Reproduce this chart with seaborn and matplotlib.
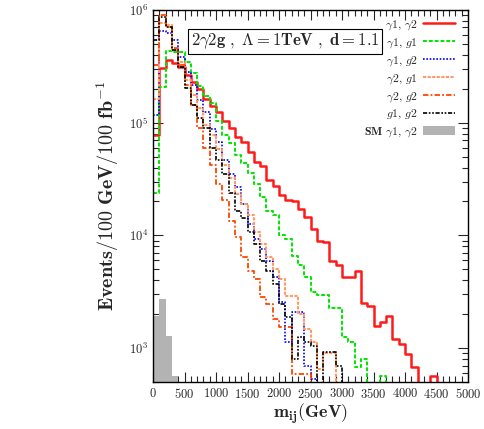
import numpy as np
import pandas as pd
import seaborn as sns
import matplotlib.pyplot as plt
from matplotlib.patches import Patch
from matplotlib.lines import Line2D
from matplotlib.ticker import MultipleLocator, LogLocator, NullFormatter

# 100 GeV bins from 0 to 5000 GeV
edges = np.arange(0, 5100, 100)
centers = edges[:-1] + 50

# events / 100 GeV / 100 fb^-1 (0 = empty bin)
a1a2 = [7.8e4, 3.07e5, 3.61e5, 3.40e5, 3.13e5, 2.66e5, 2.31e5, 2.0e5, 1.63e5, 1.41e5,
        1.25e5, 1.04e5, 9.0e4, 7.5e4, 6.8e4, 5.5e4, 4.5e4, 4.1e4, 3.13e4, 2.77e4,
        2.26e4, 2.08e4, 2.0e4, 1.70e4, 1.47e4, 1.13e4, 9.0e3, 8.7e3, 5.9e3, 5.5e3,
        4.3e3, 4.3e3, 4.8e3, 2.5e3, 2.37e3, 1.57e3, 1.70e3, 1.92e3, 1.2e3, 1.08e3,
        8.9e2, 6.8e2, 0, 0, 5.65e2, 0, 0, 0, 0, 0]
a1g1 = [2.36e4, 2.08e5, 4.34e5, 4.25e5, 4.25e5, 3.47e5, 2.77e5, 2.1e5, 1.73e5, 1.50e5,
        1.04e5, 7.8e4, 6.65e4, 5.2e4, 4.4e4, 3.6e4, 2.83e4, 2.2e4, 1.63e4, 1.53e4,
        1.0e4, 9.2e3, 6.5e3, 5.5e3, 4.3e3, 3.13e3, 2.94e3, 2.94e3, 2.26e3, 2.26e3,
        1.25e3, 1.13e3, 6.8e2, 8.0e2, 0, 0, 5.65e2, 0, 0, 0,
        0, 0, 0, 0, 0, 0, 0, 0, 0, 0]
a1g2 = [1.18e5, 6.52e5, 6.26e5, 5.43e5, 3.84e5, 2.83e5, 2.17e5, 1.60e5, 1.25e5, 8.7e4,
        6.8e4, 4.7e4, 3.47e4, 2.66e4, 1.88e4, 1.25e4, 9.2e3, 7.5e3, 5.9e3, 4.25e3,
        2.55e3, 1.13e3, 2.08e3, 2.08e3, 6.9e2, 5.3e2, 0, 0, 0, 0,
        0, 0, 0, 0, 0, 0, 0, 0, 0, 0,
        0, 0, 0, 0, 0, 0, 0, 0, 0, 0]
a2g1 = [1.63e5, 7.67e5, 7.36e5, 4.43e5, 3.47e5, 2.40e5, 1.77e5, 1.36e5, 9.6e4, 7.8e4,
        5.8e4, 4.25e4, 3.26e4, 2.31e4, 1.88e4, 1.53e4, 1.08e4, 8.3e3, 6.4e3, 5.0e3,
        4.08e3, 2.88e3, 2.88e3, 2.0e3, 1.47e3, 1.13e3, 6.5e2, 9.0e2, 9.0e2, 0,
        0, 0, 0, 0, 0, 0, 0, 0, 0, 0,
        0, 0, 0, 0, 0, 0, 0, 0, 0, 0]
a2g2 = [3.26e5, 9.03e5, 7.07e5, 4.61e5, 3.26e5, 2.17e5, 1.44e5, 9.0e4, 6.0e4, 4.25e4,
        2.83e4, 2.08e4, 1.33e4, 9.6e3, 6.4e3, 4.8e3, 4.08e3, 2.83e3, 2.45e3, 1.81e3,
        1.53e3, 1.53e3, 5.9e2, 5.9e2, 5.9e2, 0, 0, 0, 0, 0,
        0, 0, 0, 0, 0, 0, 0, 0, 0, 0,
        0, 0, 0, 0, 0, 0, 0, 0, 0, 0]
g1g2 = [5.43e5, 8.67e5, 7.07e5, 4.43e5, 3.13e5, 2.04e5, 1.44e5, 1.11e5, 9.0e4, 6.0e4,
        4.7e4, 3.47e4, 2.40e4, 1.63e4, 1.44e4, 1.08e4, 8.3e3, 5.9e3, 4.8e3, 3.68e3,
        2.45e3, 1.88e3, 8.0e2, 1.25e3, 1.13e3, 1.04e3, 0, 9.2e2, 9.2e2, 6.9e2,
        0, 0, 0, 0, 0, 0, 0, 0, 0, 0,
        0, 0, 0, 0, 0, 0, 0, 0, 0, 0]
sm_a1a2 = [1.93e3, 2.72e3, 1.29e3, 5.7e2] + [0] * 46

labels = [r'$\gamma1,\,\gamma2$', r'$\gamma1,\,g1$', r'$\gamma1,\,g2$',
          r'$\gamma2,\,g1$', r'$\gamma2,\,g2$', r'$g1,\,g2$',
          r'$\mathbf{SM}\ \gamma1,\,\gamma2$']

sns.set_theme(style='ticks')
plt.rcParams['font.family'] = 'serif'
plt.rcParams['font.serif'] = ['cmr10']
plt.rcParams['mathtext.fontset'] = 'cm'
plt.rcParams['axes.formatter.use_mathtext'] = True

fig = plt.figure(figsize=(4.85, 4.29), dpi=100)
ax = fig.add_axes([0.3155, 0.1096, 0.6495, 0.8671])
ax.set_yscale('log')


def hist(vals, **kw):
    df = pd.DataFrame({'m': centers, 'w': vals})
    sns.histplot(data=df, x='m', weights='w', binwidth=100, binrange=(0, 5000),
                 element='step', ax=ax, **kw)


sm_col = '#b3b3b3'
hist(sm_a1a2, fill=True, color=sm_col, alpha=1, linewidth=0)

styles = [
    (a1a2, '#ff1a1a', '-', 1.8),
    (a1g1, '#00e600', (0, (2, 1)), 1.4),
    (a1g2, '#0000ff', (0, (1, 1)), 1.2),
    (a2g1, '#ff9966', (0, (1.5, 0.7)), 1.5),
    (a2g2, '#ff4500', (0, (3, 1.2, 1, 1.2)), 1.3),
    (g1g2, '#000000', (0, (2.5, 1, 1, 1, 1, 1)), 1.2),
]
handles = []
for vals, col, ls, lw in styles:
    hist(vals, fill=False, color=col, linestyle=ls, linewidth=lw)
    handles.append(Line2D([], [], color=col, linestyle=ls, linewidth=lw))
handles.append(Patch(facecolor=sm_col, edgecolor='none'))

ax.set_xlim(0, 5000)
ax.set_ylim(500, 1e6)
ax.xaxis.set_major_locator(MultipleLocator(500))
ax.xaxis.set_minor_locator(MultipleLocator(100))
ax.yaxis.set_major_locator(LogLocator(base=10, numticks=10))
ax.yaxis.set_minor_locator(LogLocator(base=10, subs=np.arange(2, 10), numticks=20))
ax.yaxis.set_minor_formatter(NullFormatter())
ax.tick_params(which='both', direction='in', top=True, right=True, labelsize=9, width=0.8)
ax.tick_params(which='major', length=7)
ax.tick_params(which='minor', length=4)
for s in ax.spines.values():
    s.set_linewidth(1.0)
    s.set_color('black')

ax.set_xlabel(r'$\mathbf{m_{ij}(GeV)}$', fontsize=13, labelpad=1)
ax.set_ylabel(r'$\mathbf{Events/100\ GeV/100\ fb^{-1}}$', fontsize=14.5, labelpad=6)

ax.legend(handles, labels, loc='upper right', bbox_to_anchor=(0.967, 0.985),
          frameon=False, markerfirst=False, fontsize=8.5, handlelength=2.7,
          labelspacing=0.35, handletextpad=0.5, borderaxespad=0, borderpad=0.2)

ax.text(0.42, 0.915, r'$\mathbf{2\gamma 2g\ ,\ \Lambda = 1TeV\ ,\ d = 1.1}$',
        transform=ax.transAxes, ha='center', va='center', fontsize=12,
        bbox=dict(boxstyle='square,pad=0.15', facecolor='white', edgecolor='black', linewidth=0.8))

fig.savefig('out.png', dpi=100)
